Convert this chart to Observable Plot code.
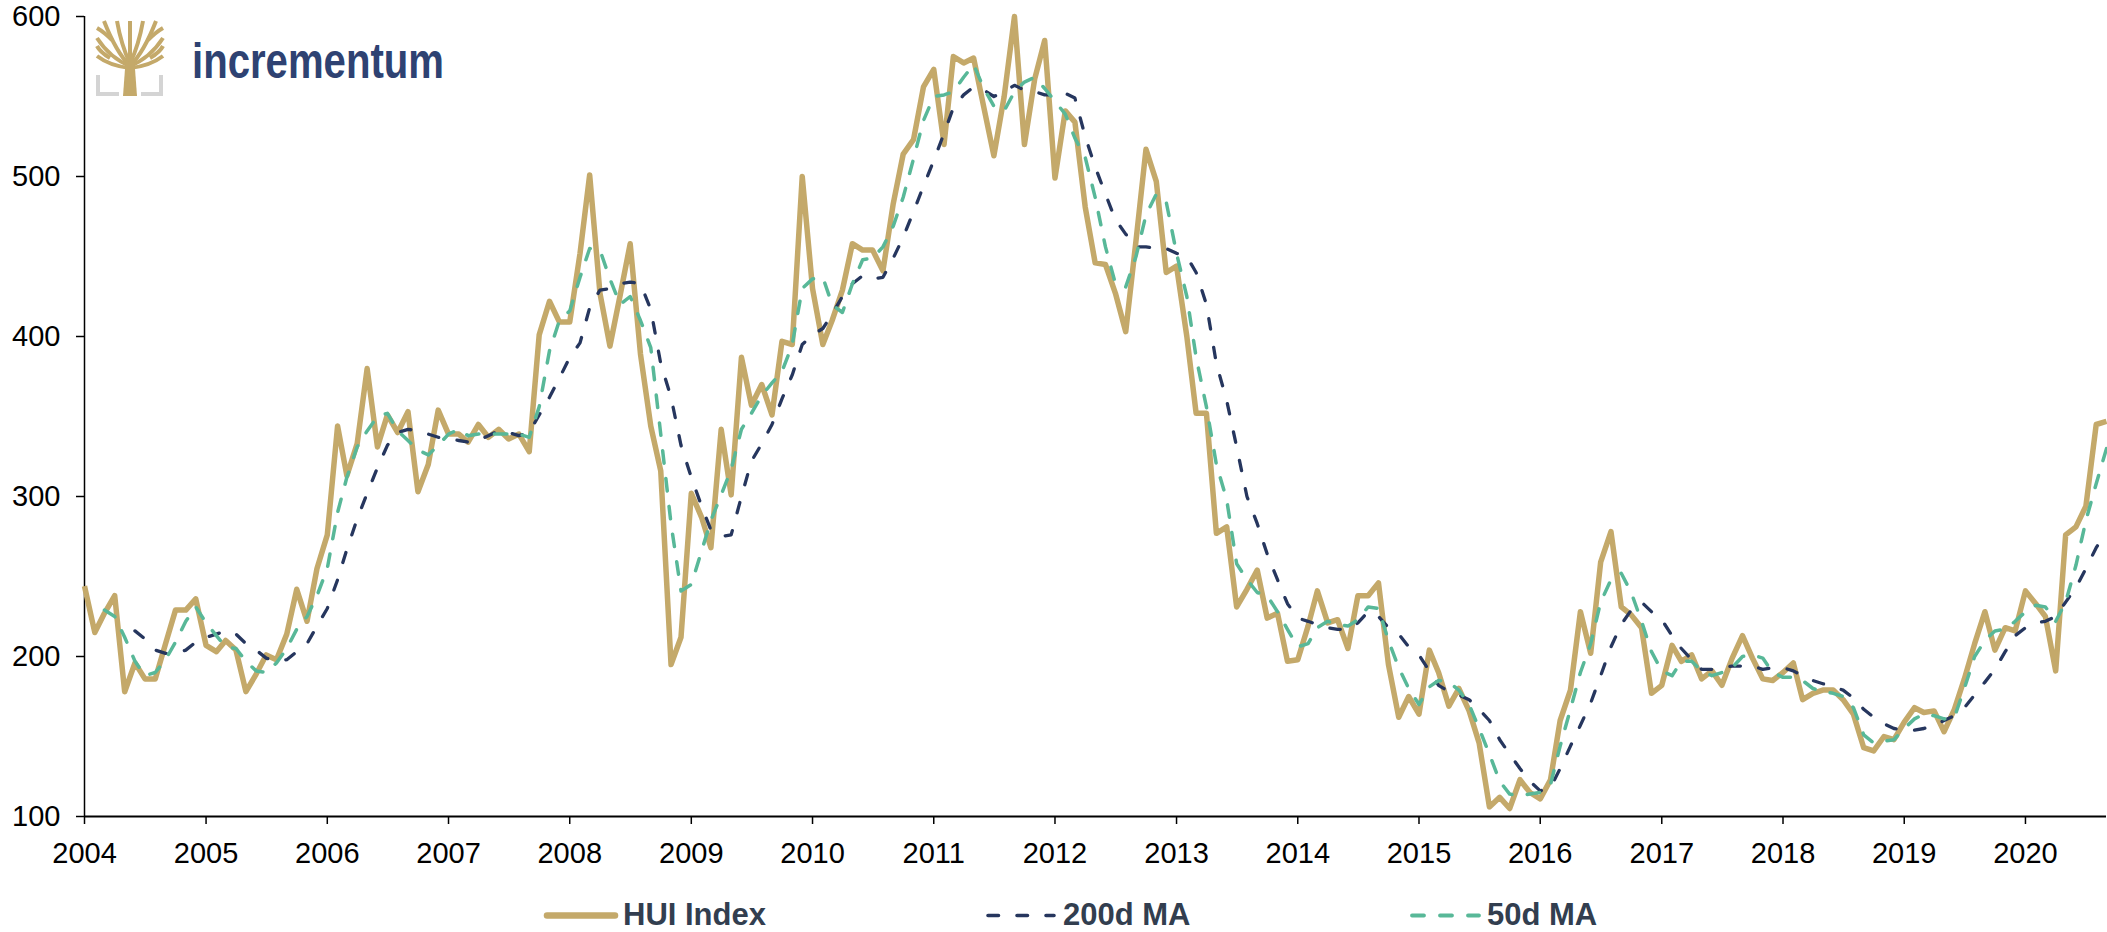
<!DOCTYPE html>
<html>
<head>
<meta charset="utf-8">
<script src="https://cdn.jsdelivr.net/npm/d3@7"></script>
<script src="https://cdn.jsdelivr.net/npm/@observablehq/plot@0.6"></script>
<style>
  html, body { margin: 0; padding: 0; background: #fff; }
  #wrap { position: relative; width: 2107px; height: 932px; overflow: hidden; font-family: "Liberation Sans", Arial, sans-serif; }
  #chart { position: absolute; left: 0; top: 0; }
  #logo { position: absolute; left: 0; top: 0; }
  #legend { position: absolute; left: 0; top: 868px; }
</style>
</head>
<body>
<div id="wrap">
  <div id="chart"></div>
  <svg id="logo" width="620" height="110" viewBox="0 0 620 110">
    <g fill="none" stroke="#C4A96A" stroke-width="4" stroke-linecap="butt">
      <path d="M130,66 Q116,52 104,21"/>
      <path d="M130,66 Q110,58 97,38"/>
      <path d="M130,68 Q110,66 97,56"/>
      <path d="M130,64 Q121,44 117,21"/>
      <path d="M130,64 Q130,42 130,21"/>
      <path d="M130,64 Q139,44 143,21"/>
      <path d="M130,66 Q144,52 156,21"/>
      <path d="M130,66 Q150,58 163,38"/>
      <path d="M130,68 Q150,66 163,56"/>
      <path d="M110,58 Q100,52 97,46"/>
      <path d="M150,58 Q160,52 163,46"/>
      <path d="M112,40 Q104,32 97,28"/>
      <path d="M148,40 Q156,32 163,28"/>
    </g>
    <path d="M123,96 L137,96 L134.5,62 L125.5,62 Z" fill="#C4A96A"/>
    <g fill="none" stroke="#D4D4D4" stroke-width="4">
      <path d="M98,75 V94 H119"/>
      <path d="M161,75 V94 H141"/>
    </g>
    <text x="192" y="78" font-family="Liberation Sans, Arial, sans-serif" font-weight="bold" font-size="50" fill="#2E4272" textLength="252" lengthAdjust="spacingAndGlyphs">incrementum</text>
  </svg>
  <svg id="legend" width="2107" height="64"></svg>
</div>
<script>
// ---------------- data ----------------
const startYear = 2004;   // first monthly observation: Jan 2004
const seriesNames = ["HUI Index", "200d MA", "50d MA"];
const seriesColors = ["#C4A96A", "#26365E", "#58B898"];
const yTicks = [100, 200, 300, 400, 500, 600];
const yearTicks = [2004, 2005, 2006, 2007, 2008, 2009, 2010, 2011, 2012, 2013, 2014, 2015, 2016, 2017, 2018, 2019, 2020];

const hui = [
  244, 215, 227, 238, 178, 196, 186, 186, 208, 229, 229, 236,
  207, 203, 210, 204, 178, 189, 201, 198, 214, 242, 222, 255,
  276, 344, 313, 333, 380, 331, 351, 340, 353, 303, 320, 354,
  339, 339, 334, 345, 337, 342, 336, 339, 328, 401, 422, 409,
  409, 452, 501, 427, 394, 426, 458, 389, 344, 316, 195, 212,
  302, 287, 268, 342, 301, 387, 357, 370, 351, 397, 395, 500,
  430, 395, 410, 429, 458, 454, 454, 441, 483, 514, 523, 556,
  567, 520, 575, 571, 574, 543, 513, 550, 600, 520, 561, 585,
  499, 541, 534, 481, 446, 445, 427, 403, 460, 517, 497, 440,
  444, 400, 352, 352, 277, 281, 231, 242, 254, 224, 227, 197,
  198, 219, 241, 221, 223, 205, 238, 238, 246, 195, 162, 175,
  164, 204, 190, 169, 180, 166, 146, 106, 112, 105, 123, 115,
  111, 123, 160, 179, 228, 202, 259, 278, 231, 226, 218, 177,
  182, 207, 197, 201, 186, 191, 182, 199, 213, 199, 186, 185,
  190, 196, 173, 177, 179, 179, 173, 164, 143, 141, 150, 148,
  159, 168, 165, 166, 153, 167, 186, 208, 228, 204, 218, 216,
  241, 233, 225, 191, 276, 281, 294, 345, 347
];

const ma200 = [
  null, null, null, null, null, 216, 211, 204, 202, 202, 204, 209,
  212, 214, 216, 214, 208, 204, 199, 197, 198, 203, 208, 219,
  230, 248, 267, 286, 302, 318, 332, 340, 342, 341, 339, 337,
  336, 335, 334, 335, 338, 341, 340, 338, 340, 351, 362, 374,
  387, 396, 418, 429, 430, 433, 434, 433, 417, 383, 362, 332,
  312, 294, 279, 275, 276, 300, 322, 333, 345, 361, 376, 395,
  401, 405, 414, 425, 433, 438, 436, 437, 449, 462, 478, 494,
  510, 527, 543, 551, 556, 554, 550, 553, 557, 554, 553, 551,
  551, 552, 549, 525, 506, 489, 473, 464, 456, 456, 455, 455,
  452, 450, 440, 420, 383, 360, 331, 300, 283, 264, 248, 233,
  224, 222, 220, 218, 217, 217, 221, 228, 225, 218, 214, 206,
  201, 191, 182, 178, 176, 173, 167, 160, 148, 139, 130, 122,
  116, 118, 130, 144, 157, 171, 188, 206, 220, 229, 234, 228,
  223, 213, 205, 198, 192, 192, 193, 194, 194, 194, 192, 193,
  193, 191, 188, 185, 183, 181, 179, 174, 167, 162, 158, 155,
  154, 154, 155, 157, 160, 163, 168, 176, 184, 192, 203, 213,
  218, 221, 222, 225, 234, 243, 255, 268, 278
];

const ma50 = [
  null, null, 229, 225, 212, 197, 188, 190, 198, 209, 222, 231,
  221, 213, 206, 205, 197, 191, 190, 196, 205, 217, 225, 238,
  255, 290, 312, 331, 341, 350, 352, 341, 335, 329, 326, 332,
  339, 342, 338, 339, 339, 339, 339, 339, 337, 356, 391, 410,
  416, 437, 455, 454, 436, 420, 425, 410, 393, 339, 283, 241,
  245, 266, 285, 301, 317, 342, 352, 363, 371, 378, 395, 430,
  436, 437, 420, 415, 433, 448, 449, 456, 469, 487, 511, 535,
  550, 551, 553, 562, 570, 555, 544, 541, 553, 559, 562, 555,
  547, 539, 524, 512, 487, 456, 433, 431, 450, 476, 489, 484,
  452, 425, 387, 356, 320, 298, 258, 248, 240, 238, 228, 217,
  206, 208, 218, 222, 220, 219, 223, 231, 230, 210, 193, 180,
  170, 181, 185, 184, 179, 170, 155, 139, 122, 114, 113, 114,
  115, 120, 144, 167, 190, 208, 234, 248, 252, 240, 222, 203,
  191, 188, 197, 197, 191, 188, 190, 193, 200, 201, 199, 190,
  187, 187, 185, 180, 178, 177, 175, 168, 151, 146, 147, 148,
  155, 161, 164, 163, 161, 162, 180, 200, 210, 216, 217, 222,
  228, 232, 231, 222, 234, 257, 285, 308, 330
];

// ---------------- build ----------------
const monthDate = i => new Date(Date.UTC(startYear, i, 1));
const toRows = arr => arr.map((v, i) => ({date: monthDate(i), value: v}));
const huiRows = toRows(hui);
const ma200Rows = toRows(ma200);
const ma50Rows = toRows(ma50);
const yearDates = yearTicks.map(y => new Date(Date.UTC(y, 0, 1)));

const font = "Liberation Sans, Arial, sans-serif";

const chart = Plot.plot({
  width: 2107,
  height: 868,
  marginLeft: 84,
  marginRight: 1,
  marginTop: 16,
  marginBottom: 52,
  style: {fontFamily: font, fontSize: "29px", color: "#000", background: "#fff", overflow: "visible"},
  x: {type: "utc", domain: [monthDate(0), monthDate(hui.length - 1)]},
  y: {domain: [100, 600]},
  marks: [
    Plot.axisY({ticks: yTicks, tickSize: 8, tickPadding: 16, fontSize: 29, label: null, stroke: "#000", fill: "#000", strokeWidth: 1.5}),
    Plot.axisX({ticks: yearDates, tickFormat: d3.utcFormat("%Y"), tickSize: 8, tickPadding: 18, fontSize: 29, label: null, stroke: "#000", fill: "#000", strokeWidth: 1.5}),
    Plot.ruleX([monthDate(0)], {stroke: "#000", strokeWidth: 1.5}),
    Plot.line(huiRows, {x: "date", y: "value", stroke: seriesColors[0], strokeWidth: 5.5, strokeLinejoin: "round", strokeLinecap: "butt"}),
    Plot.line(ma200Rows, {x: "date", y: "value", stroke: seriesColors[1], strokeWidth: 3.3, strokeDasharray: "10.5,18.5", strokeLinecap: "round"}),
    Plot.line(ma50Rows, {x: "date", y: "value", stroke: seriesColors[2], strokeWidth: 3.5, strokeDasharray: "12.5,15.5", strokeLinecap: "round"}),
    Plot.ruleY([100], {stroke: "#000", strokeWidth: 2.2})
  ]
});
document.getElementById("chart").appendChild(chart);

// ---------------- legend ----------------
const legend = d3.select("#legend");
const items = [
  {name: seriesNames[0], color: seriesColors[0], x0: 547, x1: 615, tx: 623, width: 6.5, dash: null, cap: "round"},
  {name: seriesNames[1], color: seriesColors[1], x0: 988, x1: 1054, tx: 1063, width: 3.6, dash: "10.5,18.5", cap: "round"},
  {name: seriesNames[2], color: seriesColors[2], x0: 1412, x1: 1479, tx: 1487, width: 3.8, dash: "12,16", cap: "round"}
];
items.forEach(it => {
  legend.append("line")
    .attr("x1", it.x0).attr("x2", it.x1).attr("y1", 47.5).attr("y2", 47.5)
    .attr("stroke", it.color).attr("stroke-width", it.width)
    .attr("stroke-linecap", it.cap)
    .attr("stroke-dasharray", it.dash);
  legend.append("text")
    .attr("x", it.tx).attr("y", 57)
    .attr("font-family", font).attr("font-weight", "bold").attr("font-size", 31)
    .attr("fill", "#323E4F")
    .text(it.name);
});
</script>
</body>
</html>
